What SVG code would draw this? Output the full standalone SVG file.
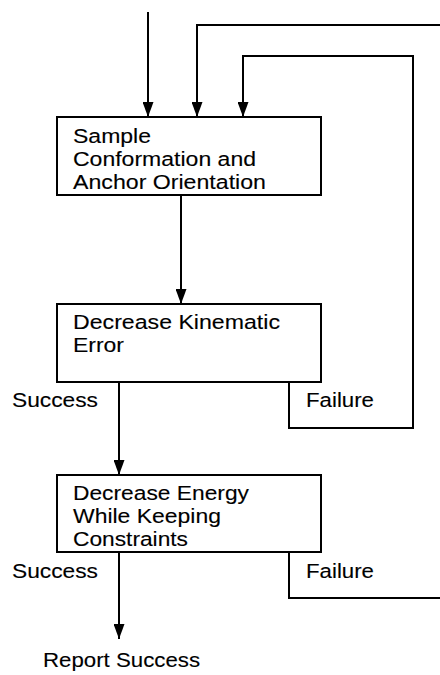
<svg xmlns="http://www.w3.org/2000/svg" width="440" height="675" viewBox="0 0 440 675">
<defs>
<marker id="arr" markerUnits="userSpaceOnUse" markerWidth="15" markerHeight="11" refX="15" refY="5.5" orient="auto" viewBox="0 0 15 11">
<path d="M0,0 L15,5.5 L0,11 z" fill="#000"/>
</marker>
<style>
.box{fill:#fff;stroke:#000;stroke-width:2}
.ln{fill:none;stroke:#000;stroke-width:2}
.ar{marker-end:url(#arr)}
text{font-family:"Liberation Sans",Arial,Helvetica,sans-serif;font-size:20.5px;fill:#000;stroke:#000;stroke-width:0.12}
</style>
</defs>
<g id="connectors">
<path class="ln ar" d="M148,12 V117"/>
<path class="ln ar" d="M441,25 H197 V117"/>
<path class="ln ar" d="M289,382 V428 H413 V56 H243 V117"/>
<path class="ln ar" d="M181,195 V304"/>
<path class="ln ar" d="M119,382 V475"/>
<path class="ln" d="M289,552 V598 H441"/>
<path class="ln ar" d="M119,552 V639"/>
</g>
<g id="sample">
<rect class="box" x="57" y="117" width="264" height="78"/>
<text x="73" y="143" textLength="78" lengthAdjust="spacingAndGlyphs">Sample</text>
<text x="73" y="166" textLength="183" lengthAdjust="spacingAndGlyphs">Conformation and</text>
<text x="73" y="189" textLength="193" lengthAdjust="spacingAndGlyphs">Anchor Orientation</text>
</g>
<g id="kinematic">
<rect class="box" x="57" y="304" width="264" height="78"/>
<text x="73" y="329" textLength="207" lengthAdjust="spacingAndGlyphs">Decrease Kinematic</text>
<text x="73" y="352" textLength="51" lengthAdjust="spacingAndGlyphs">Error</text>
</g>
<g id="labels1">
<text x="12" y="407" textLength="86" lengthAdjust="spacingAndGlyphs">Success</text>
<text x="306" y="407" textLength="68" lengthAdjust="spacingAndGlyphs">Failure</text>
</g>
<g id="energy">
<rect class="box" x="57" y="475" width="264" height="77"/>
<text x="73" y="500" textLength="176" lengthAdjust="spacingAndGlyphs">Decrease Energy</text>
<text x="73" y="523" textLength="148" lengthAdjust="spacingAndGlyphs">While Keeping</text>
<text x="73" y="546" textLength="115" lengthAdjust="spacingAndGlyphs">Constraints</text>
</g>
<g id="labels2">
<text x="12" y="578" textLength="86" lengthAdjust="spacingAndGlyphs">Success</text>
<text x="306" y="578" textLength="68" lengthAdjust="spacingAndGlyphs">Failure</text>
</g>
<g id="report">
<text x="43" y="667" textLength="157" lengthAdjust="spacingAndGlyphs">Report Success</text>
</g>
</svg>
